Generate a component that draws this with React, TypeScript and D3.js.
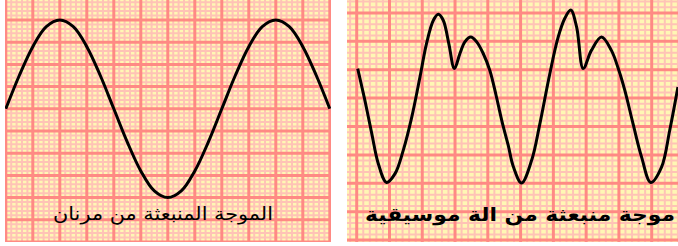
import React from 'react';
import * as d3 from 'd3';

// left panel: wave from a tuning fork (grid units, 1 unit = one thick square)
const forkX = [0, 0.5, 1, 1.5, 2, 2.5, 3, 3.5, 4, 4.5, 5, 5.5, 6, 6.5, 7, 7.5, 8, 8.5, 9, 9.5, 10, 10.5, 11, 11.5, 12];
const forkY = [0, 1.5, 2.8, 3.7, 4, 3.7, 2.8, 1.5, 0, -1.5, -2.8, -3.7, -4, -3.7, -2.8, -1.5, 0, 1.5, 2.8, 3.7, 4, 3.7, 2.8, 1.5, 0];

// right panel: wave from a musical instrument
const instX = [0.03, 0.25, 0.46, 0.66, 0.91, 1.17, 1.42, 1.68, 1.93, 2.13, 2.34, 2.49, 2.64, 2.81, 2.98, 3.15, 3.3, 3.48, 3.66, 3.86, 4.06, 4.25, 4.43, 4.62, 4.78, 5.03, 5.34, 5.58, 5.89, 6.14, 6.35, 6.53, 6.71, 6.91, 7.16, 7.47, 7.77, 7.98, 8.18, 8.43, 8.69, 8.97, 9.3, 9.55, 9.8];
const instY = [4.04, 2.92, 1.75, 0.69, 0.03, 0.34, 1.16, 2.33, 3.74, 4.92, 5.74, 5.95, 5.74, 4.92, 4.04, 4.57, 4.98, 5.15, 4.98, 4.57, 3.98, 3.11, 2.19, 1.35, 0.58, 0.01, 0.82, 2.05, 3.85, 5.12, 5.81, 6.1, 5.5, 4.04, 4.68, 5.15, 4.68, 4.04, 3.27, 2.1, 0.93, 0.03, 0.57, 1.87, 3.39];

const captions = ['الموجة المنبعثة من مرنان', 'موجة منبعثة من الة موسيقية'];

const BG = '#fff7b4';
const MINOR = '#ffc3b6';
const MAJOR = '#ff8a84';

type PanelProps = {
  id: string;
  left: number; right: number; top: number; bottom: number;
  x: d3.ScaleLinear<number, number>;
  y: d3.ScaleLinear<number, number>;
  xs: number[]; ys: number[];
  curve: d3.CurveFactory;
  caption: string;
  capX: number; capY: number; capW: number; capSize: number; capWeight: string;
};

function Panel(p: PanelProps) {
  const [x0, x1] = [p.x.invert(p.left), p.x.invert(p.right)];
  const [y0, y1] = [p.y.invert(p.bottom), p.y.invert(p.top)];
  const minorX = d3.range(Math.ceil(x0 * 5), Math.floor(x1 * 5) + 1).filter(i => i % 5 !== 0).map(i => i / 5);
  const minorY = d3.range(Math.ceil(y0 * 5), Math.floor(y1 * 5) + 1).filter(i => i % 5 !== 0).map(i => i / 5);
  const majorX = d3.range(Math.ceil(x0), Math.floor(x1) + 1);
  const majorY = d3.range(Math.ceil(y0), Math.floor(y1) + 1);
  const pts: [number, number][] = p.xs.map((v, i) => [v, p.ys[i]]);
  const line = d3.line<[number, number]>().x(d => p.x(d[0])).y(d => p.y(d[1])).curve(p.curve);
  return (
    <g>
      <defs>
        <clipPath id={p.id}>
          <rect x={p.left} y={p.top} width={p.right - p.left} height={p.bottom - p.top} />
        </clipPath>
      </defs>
      <g clipPath={`url(#${p.id})`}>
        <rect x={p.left} y={p.top} width={p.right - p.left} height={p.bottom - p.top} fill={BG} />
        {minorX.map(v => <line key={'mx' + v} x1={p.x(v)} x2={p.x(v)} y1={p.top} y2={p.bottom} stroke={MINOR} strokeWidth={2} />)}
        {minorY.map(v => <line key={'my' + v} y1={p.y(v)} y2={p.y(v)} x1={p.left} x2={p.right} stroke={MINOR} strokeWidth={2} />)}
        {majorX.map(v => <line key={'Mx' + v} x1={p.x(v)} x2={p.x(v)} y1={p.top} y2={p.bottom} stroke={MAJOR} strokeWidth={3} />)}
        {majorY.map(v => <line key={'My' + v} y1={p.y(v)} y2={p.y(v)} x1={p.left} x2={p.right} stroke={MAJOR} strokeWidth={3} />)}
        <path d={line(pts) || ''} fill="none" stroke="#000" strokeWidth={3} strokeLinejoin="round" />
        <text x={p.capX} y={p.capY} direction="rtl" textAnchor="middle" fontFamily="DejaVu Sans" fontSize={p.capSize}
          fontWeight={p.capWeight} fill="#000" textLength={p.capW} lengthAdjust="spacingAndGlyphs">{p.caption}</text>
      </g>
    </g>
  );
}

export default function App() {
  const xL = d3.scaleLinear().domain([0, 12]).range([5.8, 329.8]);
  const yL = d3.scaleLinear().domain([0, 4]).range([108.8, 20]);
  const xR = d3.scaleLinear().domain([0, 9]).range([356.7, 651.7]);
  const yR = d3.scaleLinear().domain([0, 6]).range([183.3, 12.9]);
  return (
    <svg width={678} height={246} style={{ position: 'absolute', left: 0, top: 0 }}>
      <rect width={678} height={246} fill="#fff" />
      <Panel id="cl" left={5} right={331} top={0} bottom={242} x={xL} y={yL} xs={forkX} ys={forkY}
        curve={d3.curveCatmullRom} caption={captions[0]} capX={163} capY={220} capW={220} capSize={18} capWeight="normal" />
      <Panel id="cr" left={347} right={678} top={0} bottom={242} x={xR} y={yR} xs={instX} ys={instY}
        curve={d3.curveCatmullRom.alpha(0.5)} caption={captions[1]} capX={520} capY={221} capW={310} capSize={19} capWeight="bold" />
    </svg>
  );
}
